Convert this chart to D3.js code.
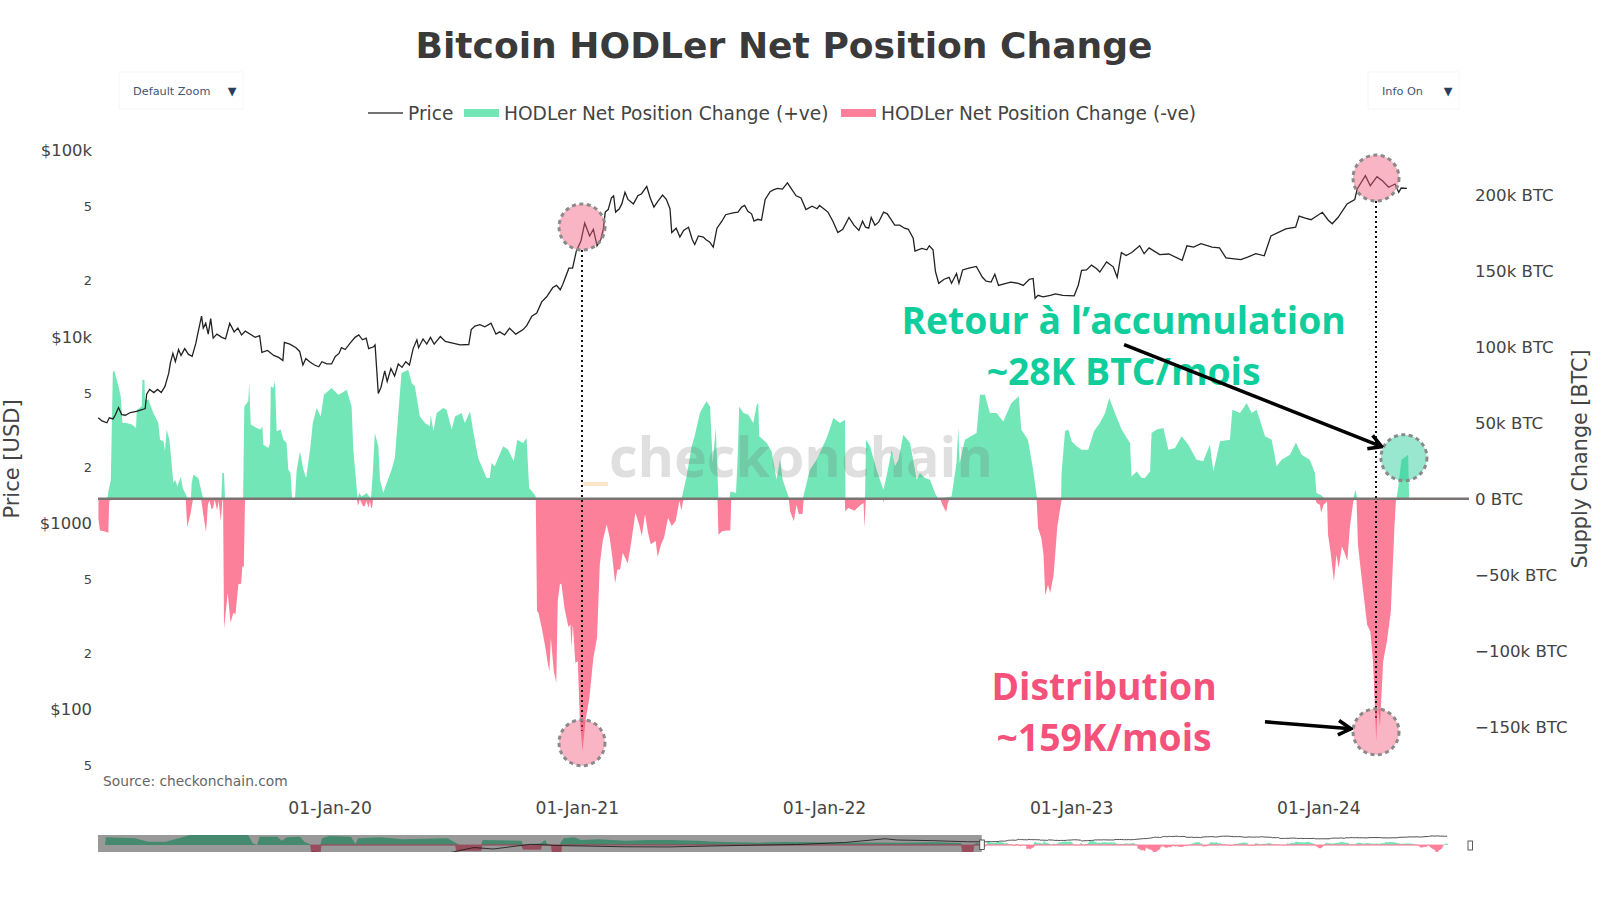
<!DOCTYPE html>
<html>
<head>
<meta charset="utf-8">
<script src="https://d3js.org/d3.v7.min.js"></script>
<style>
  html, body { margin: 0; padding: 0; background: #fff; }
  svg text { font-family: "DejaVu Sans", sans-serif; }
  .axis path, .axis line { display: none; }
  .note { font-family: "Open Sans", sans-serif !important; font-weight: 700; font-size: 37.3px; text-anchor: middle; }
</style>
</head>
<body>
<svg id="chart" width="1600" height="900"></svg>
<script>
// years are decimal, prices in USD, supply change in thousand BTC
const priceYears = [
  2019.064,2019.079,2019.099,2019.109,2019.124,2019.134,2019.146,2019.159,2019.174,2019.194,2019.219,2019.244,2019.254,2019.260,2019.272,2019.289,2019.304,2019.319,2019.334,2019.349,2019.356,2019.366,2019.376,2019.389,2019.399,2019.414,2019.429,2019.444,2019.459,2019.469,2019.482,2019.489,2019.499,2019.509,2019.519,2019.529,2019.544,2019.564,2019.579,2019.596,2019.614,2019.629,2019.644,2019.659,2019.684,2019.699,2019.717,2019.726,2019.749,2019.774,2019.794,2019.811,2019.817,2019.839,2019.864,2019.879,2019.892,2019.904,2019.919,2019.939,2019.956,2019.969,2019.989,
  2020.008,2020.023,2020.038,2020.048,2020.063,2020.083,2020.103,2020.118,2020.133,2020.148,2020.158,2020.178,2020.184,2020.197,2020.208,2020.223,2020.233,2020.248,2020.263,2020.278,2020.293,2020.308,2020.323,2020.338,2020.353,2020.360,2020.378,2020.393,2020.408,2020.423,2020.448,2020.468,2020.498,2020.528,2020.563,2020.573,2020.588,2020.608,2020.628,2020.653,2020.673,2020.688,2020.708,2020.728,2020.753,2020.783,2020.798,2020.818,2020.838,2020.858,2020.878,2020.903,2020.918,2020.933,2020.943,2020.968,2020.983,2020.998,
  2021.017,2021.032,2021.052,2021.067,2021.082,2021.097,2021.107,2021.115,2021.127,2021.140,2021.149,2021.157,2021.172,2021.182,2021.195,2021.207,2021.229,2021.247,2021.262,2021.283,2021.297,2021.312,2021.327,2021.347,2021.362,2021.377,2021.384,2021.402,2021.417,2021.432,2021.452,2021.467,2021.477,2021.492,2021.512,2021.522,2021.537,2021.552,2021.567,2021.587,2021.602,2021.632,2021.652,2021.667,2021.679,2021.692,2021.707,2021.717,2021.732,2021.747,2021.762,2021.782,2021.797,2021.812,2021.832,2021.852,2021.867,2021.887,2021.907,2021.927,2021.952,2021.972,2021.982,
  2022.016,2022.036,2022.056,2022.076,2022.101,2022.121,2022.141,2022.156,2022.168,2022.181,2022.191,2022.206,2022.221,2022.241,2022.256,2022.271,2022.286,2022.306,2022.326,2022.341,2022.361,2022.368,2022.396,2022.416,2022.426,2022.441,2022.451,2022.464,2022.486,2022.506,2022.516,2022.536,2022.546,2022.561,2022.586,2022.616,2022.641,2022.656,2022.676,2022.691,2022.706,2022.736,2022.756,2022.786,2022.806,2022.831,2022.846,2022.854,2022.866,2022.886,2022.916,2022.936,2022.966,
  2023.012,2023.029,2023.042,2023.062,2023.082,2023.102,2023.116,2023.143,2023.170,2023.186,2023.203,2023.222,2023.245,2023.277,2023.295,2023.315,2023.358,2023.395,2023.449,2023.468,2023.495,2023.525,2023.570,2023.600,2023.626,2023.686,2023.716,2023.747,2023.781,2023.808,2023.868,2023.908,2023.922,2023.947,2023.970,
  2024.016,2024.040,2024.056,2024.080,2024.116,2024.147,2024.157,2024.190,2024.210,2024.237,2024.260,2024.284,2024.310,2024.325,2024.335,2024.358
];
const priceValues = [
  3700,3560,3480,3700,3650,3850,4200,3850,3820,3950,4000,4100,4150,4950,5250,5050,5250,5050,5450,6400,7300,8200,7400,8600,8000,8700,8100,7900,9300,10800,13000,11200,11900,10400,12600,9900,10400,10000,9800,11900,10700,11200,10300,10800,10300,10000,10200,8300,8500,8000,7800,7500,9400,9200,8800,8400,7100,7700,7400,7100,6950,7400,7200,
  7200,7900,8200,8800,8600,9300,10000,10300,9700,9900,8700,8900,9100,5000,5400,6600,5800,6800,6200,7200,6900,7400,7100,8700,9700,8800,9800,9200,10000,9200,10100,9500,9300,9100,9150,11000,11500,11700,11400,11900,10400,10700,10300,11200,10400,11000,11600,13000,13500,15500,16500,18500,19000,18000,19200,23500,23500,29000,
  33000,41000,35000,38000,31000,33500,38000,47000,48500,56000,57500,47000,49000,52000,60000,55000,52000,57500,59000,64500,56000,50000,53500,58000,55000,49000,36500,38500,34500,37500,39000,33500,31500,35000,34500,33500,32500,30500,38500,42000,45500,46500,47000,50000,51000,47500,46000,42000,43000,42500,55000,60500,62000,63000,62500,67500,63000,57500,56000,48500,50500,49000,51000,
  47000,42000,36500,38000,44000,40000,37500,42000,39000,38500,44000,40000,41500,47000,46000,43000,40000,40000,38500,38000,34000,29000,30000,29500,31000,29500,22500,19500,20500,21000,19500,22000,19500,23000,23500,24000,21000,20000,19800,21800,19000,19500,19800,19500,19000,20500,20700,16200,16800,16500,16800,17100,16800,
  16700,19100,22900,23000,24400,23400,22400,25400,23900,21000,28500,27500,28500,31000,28100,30200,27800,28000,25900,31000,30500,31800,30500,30200,26700,26100,27000,28100,27400,35000,38200,39000,44700,43600,42800,
  46900,42500,40700,44100,52000,54900,62500,73700,65100,72800,69000,63900,66500,60000,63300,63000
];

const positiveYears = [
  2019.063,2019.101,2019.105,2019.115,2019.123,2019.128,2019.146,2019.155,2019.162,2019.179,2019.200,2019.217,2019.220,2019.240,2019.243,2019.251,2019.253,2019.267,2019.287,2019.307,2019.314,2019.328,2019.334,2019.341,2019.352,2019.361,2019.368,2019.375,2019.384,2019.398,2019.406,2019.422,2019.425,2019.439,2019.442,2019.449,2019.469,2019.483,2019.489,2019.562,2019.566,2019.573,2019.577,2019.650,2019.655,2019.671,2019.675,2019.681,2019.705,2019.721,2019.728,2019.732,2019.752,2019.759,2019.762,2019.772,2019.779,2019.786,2019.802,2019.813,2019.826,2019.833,2019.842,2019.848,2019.860,2019.867,2019.880,2019.894,2019.905,2019.921,2019.932,2019.948,2019.964,2019.977,
  2020.008,2020.035,2020.049,2020.069,2020.089,2020.096,2020.109,2020.113,2020.120,2020.130,2020.150,2020.167,2020.174,2020.183,2020.197,2020.204,2020.217,2020.231,2020.251,2020.264,2020.278,2020.291,2020.318,2020.332,2020.345,2020.365,2020.386,2020.406,2020.409,2020.420,2020.433,2020.460,2020.473,2020.494,2020.507,2020.534,2020.547,2020.568,2020.581,2020.601,2020.621,2020.635,2020.648,2020.655,2020.668,2020.702,2020.722,2020.745,2020.759,2020.783,2020.797,2020.807,2020.830,2020.837,
  2021.424,2021.444,2021.465,2021.478,2021.498,2021.512,2021.525,2021.539,2021.550,2021.562,2021.573,2021.617,2021.622,2021.644,2021.651,2021.657,2021.674,2021.694,2021.714,2021.728,2021.734,2021.738,2021.768,2021.788,2021.808,2021.822,2021.833,2021.849,2021.860,2021.914,2021.923,2021.943,2021.970,
  2022.011,2022.038,2022.065,2022.085,2022.087,2022.166,2022.170,2022.186,2022.213,2022.240,2022.253,2022.274,2022.287,2022.301,2022.321,2022.348,2022.375,2022.388,2022.408,2022.429,2022.449,2022.462,2022.516,2022.536,2022.543,2022.549,2022.570,2022.617,2022.631,2022.651,2022.671,2022.698,2022.725,2022.758,2022.788,2022.798,2022.825,2022.846,2022.862,2022.959,2022.961,2022.975,2022.988,
  2023.002,2023.022,2023.042,2023.069,2023.092,2023.116,2023.137,2023.154,2023.177,2023.204,2023.238,2023.244,2023.265,2023.285,2023.298,2023.319,2023.325,2023.346,2023.373,2023.393,2023.420,2023.447,2023.474,2023.507,2023.534,2023.561,2023.575,2023.602,2023.642,2023.652,2023.683,2023.710,2023.730,2023.750,2023.784,2023.811,2023.831,2023.851,2023.885,2023.909,2023.932,2023.965,2023.986,2023.992,
  2024.009,2024.026,2024.141,2024.150,2024.157,2024.316,2024.323,2024.336,2024.363,2024.367
];
const positiveValues = [
  0,0,4.8,12.5,82.8,85,74,67.4,49.8,49.8,48.8,46.6,58.6,60.8,78.4,78.4,65.2,65.2,56.4,49.8,38.9,37.8,31.2,45.5,38.9,23.5,10.3,12.5,8.1,14.7,7,1.5,0,0,10.3,15.8,13.6,3.7,0,0,16.9,16.9,0,0,60.8,64.1,76.2,48.8,46.6,45.5,47.7,35.6,33.4,36.7,74,72.9,77.3,44.4,45.5,38.9,36.7,19.1,16.9,0,0,19.1,31.2,19.1,13.6,32.3,49.8,59.7,54.2,68.5,
  72.9,68.5,69.6,71.8,60.8,32.3,8.1,0,3.7,1.5,3.7,0,14.7,43.3,34.5,12.5,3.7,10.3,19.1,26.8,56.4,82.8,85,76.2,74,54.2,49.8,47.7,55.3,44.4,56.4,59.7,58.6,45.5,54.2,56.4,49.8,57.5,44.4,26.8,19.1,13.6,13.6,23.5,21.3,34.5,32.3,24.6,38.9,36.7,40,7,2.6,0,
  0,14.7,34.5,42.2,56.4,60.8,64.1,60.8,23.5,46.6,0,0,4.8,3.7,27.9,60.8,56.4,55.3,49.8,61.9,63,41.1,36.7,31.2,12.5,25.7,12.5,4.8,0,0,5.9,19.1,25.7,
  40,53.1,49.8,52,0,0,38.9,34.5,19.1,5.9,14.7,32.3,21.3,25.7,42.2,36.7,12.5,16.9,13.6,12.5,3.7,0,1.5,23.5,46.6,23.5,38.9,43.3,68.5,68.5,56.4,56.4,50.9,63,67.4,45.5,38.9,19.1,0,0,16.9,44.4,45.5,
  37.8,34.5,32.3,32.3,44.4,49.8,56.4,66.3,56.4,45.5,36.7,14.7,18,13.6,13.6,18,43.3,45.5,46.6,32.3,33.4,41.1,35.6,25.7,24.6,35.6,18,37.8,38.9,58.6,56.4,63,56.4,58.6,41.1,38.9,21.3,25.7,29,37.1,29,25.7,16.9,3.7,
  2.6,0,0,5.9,0,0,8.1,25.7,29,0
];

const negativeYears = [
  2019.065,2019.071,2019.085,2019.105,2019.108,2019.111,2019.418,2019.424,2019.437,2019.446,2019.449,2019.480,2019.488,2019.500,2019.508,2019.514,2019.523,2019.529,2019.535,2019.545,2019.551,2019.560,2019.567,2019.569,2019.573,2019.588,2019.599,2019.611,2019.619,2019.631,2019.642,2019.647,2019.653,2019.658,
  2020.110,2020.115,2020.122,2020.135,2020.142,2020.149,2020.158,2020.163,2020.168,2020.172,2020.176,2020.834,2020.839,2020.845,2020.858,2020.873,2020.881,2020.889,2020.895,2020.907,2020.917,2020.923,2020.932,2020.938,2020.950,2020.966,2020.974,2020.978,2020.984,2020.994,
  2021.004,2021.012,2021.023,2021.036,2021.051,2021.067,2021.082,2021.093,2021.105,2021.121,2021.133,2021.144,2021.155,2021.164,2021.175,2021.186,2021.206,2021.221,2021.237,2021.252,2021.263,2021.276,2021.288,2021.299,2021.319,2021.327,2021.341,2021.353,2021.369,2021.384,2021.400,2021.415,2021.423,2021.430,2021.438,2021.569,2021.573,2021.588,2021.606,2021.621,2021.625,2021.857,2021.863,2021.878,2021.889,2021.898,2021.913,2021.918,
  2022.084,2022.086,2022.099,2022.123,2022.149,2022.160,2022.164,2022.169,2022.238,2022.240,2022.243,2022.470,2022.479,2022.494,2022.501,2022.509,2022.860,2022.866,2022.879,2022.888,2022.895,2022.906,2022.915,2022.929,2022.944,2022.958,2022.962,2023.987,2023.993,
  2024.006,2024.011,2024.021,2024.035,2024.039,2024.048,2024.063,2024.073,2024.082,2024.095,2024.104,2024.117,2024.127,2024.141,2024.147,2024.154,2024.160,2024.178,2024.197,2024.210,2024.221,2024.234,2024.240,2024.249,2024.262,2024.277,2024.293,2024.308,2024.314
];
const negativeValues = [
  -13.6,-20.9,-21.3,-22.4,-3.7,0,0,-18.7,-10.3,-1.5,0,0,-9.2,-22,-3.7,-1.1,-7,-5.9,-0.5,-7.7,-1.5,-14.7,-0.4,0,-85.6,-61.9,-81.7,-75.1,-76.2,-56.4,-56,-44.4,-45,0,
  0,-4.8,-0.4,-4.8,-5,-1.5,-5.9,-1.5,-5.9,-5.9,0,0,-74,-75.1,-85,-98.2,-106.9,-114,-91.6,-113.5,-121.2,-67.4,-56,-56.4,-71.8,-84.5,-82.8,-98.2,-82.8,-108,
  -107,-144.3,-166.2,-145.4,-131.1,-104.7,-91.6,-43.3,-27.9,-16.9,-25.7,-38.9,-55.8,-46.6,-46.6,-35.6,-42.6,-27.9,-9.2,-16.9,-24.6,-10.3,-22.4,-30,-27.9,-38.4,-30,-25.7,-12.5,-18,-14.7,-1.5,-7.7,-1.5,0,0,-23.7,-21.5,-21,-21,0,0,-8.3,-14.9,-3.9,-10.1,-10.1,0,
  0,-8.3,-6.1,-7.9,-3.9,-2.9,-19.3,0,0,-2.9,0,0,-3.9,-8.8,-2.9,0,0,-19.3,-25.9,-36.9,-63.7,-56.7,-62.1,-50,-18.2,-3.9,0,0,-2.9,
  -3.9,-9.4,-3.9,-1.8,-23.7,-33.6,-54.5,-36.9,-45.7,-31.4,-34.7,-40.8,-19.3,-1.8,0,0,-30.3,-56.7,-83,-87.4,-107.2,-159.9,-135.7,-150,-107.2,-94,-74.2,-17.1,0
];

// earlier history, only visible in the range slider
const sliderPriceYears = [2011.0,2011.45,2011.9,2012.5,2013.0,2013.28,2013.5,2013.92,2014.3,2015.0,2015.5,2016.0,2016.5,2016.95,2017.5,2017.96,2018.1,2018.5,2018.9,2019.06];
const sliderPriceValues = [0.3,18,3,6,13,190,90,1000,500,280,260,430,650,900,2500,17000,9000,6500,3600,3700];
const sliderPositiveYears = [2009.08,2009.09,2009.42,2009.57,2009.77,2009.98,2010.05,2010.71,2010.76,2010.81,2010.84,2011.04,2011.09,2011.15,2011.30,2011.35,2011.43,2011.53,2011.55,2011.63,2011.88,2011.93,2011.96,2012.21,2012.47,2012.98,2013.08,2013.12,2013.36,2013.38,2013.82,2013.84,2014.04,2014.09,2014.12,2014.25,2014.30,2014.42,2014.50,2014.70,2015.01,2015.26,2015.52,2015.82,2016.03,2016.54,2016.84,2017.5,2018.13,2018.5,2018.82,2018.84,2018.96,2019.0,2019.06];
const sliderPositiveValues = [0,163,142,71,71,177,213,213,35,0,177,177,92,163,177,71,0,0,142,191,177,21,142,163,120,142,35,0,0,106,92,0,35,106,0,0,142,163,106,120,92,106,106,92,71,50,64,55,50,57,40,0,0,45,0];
const sliderNegativeYears = [2011.42,2011.43,2011.53,2011.54,2013.07,2013.08,2013.36,2013.37,2013.82,2013.84,2014.04,2014.05,2014.16,2014.17,2014.27,2014.28,2018.83,2018.84,2018.96,2018.97,2019.06];
const sliderNegativeValues = [0,-150,-150,0,0,-120,-120,0,0,-90,-90,0,0,-150,-150,0,0,-150,-150,0,0];

const priceTickValues = [100000,50000,20000,10000,5000,2000,1000,500,200,100,50];
const priceTickLabels = ["$100k","5","2","$10k","5","2","$1000","5","2","$100","5"];
const changeTickValues = [200,150,100,50,0,-50,-100,-150];
const changeTickLabels = ["200k BTC","150k BTC","100k BTC","50k BTC","0 BTC","\u221250k BTC","\u2212100k BTC","\u2212150k BTC"];
const yearTickValues = [2020,2021,2022,2023,2024];
const yearTickLabels = ["01-Jan-20","01-Jan-21","01-Jan-22","01-Jan-23","01-Jan-24"];

const green = "#73e6b7", pink = "#fd809b";

let svg = d3.select("#chart");
let x = d3.scaleLinear().domain([2020, 2024]).range([329.6, 1318.4]);
let yPrice = d3.scaleLog().domain([100000, 100]).range([151, 710]);
let yChange = d3.scaleLinear().domain([200, -150]).range([195, 726.5]);

function rows(years, values) {
    return years.map((t, i) => ({t: t, v: values[i]}));
}

let areaChange = d3.area().x(d => x(d.t)).y0(yChange(0)).y1(d => yChange(d.v));
let linePrice = d3.line().x(d => x(d.t)).y(d => yPrice(d.v));

// main plot
svg.append("path").datum(rows(positiveYears, positiveValues)).attr("d", areaChange).attr("fill", green);
svg.append("path").datum(rows(negativeYears, negativeValues)).attr("d", areaChange).attr("fill", pink);
svg.append("line").attr("x1", 98).attr("x2", 1469)
    .attr("y1", yChange(0)).attr("y2", yChange(0))
    .attr("stroke", "#7b7272").attr("stroke-width", 2.6);

// watermark
svg.append("text").attr("x", 801).attr("y", 477).attr("text-anchor", "middle")
    .style("font-family", "'Open Sans', sans-serif").style("font-weight", 700).style("font-size", "55.6px")
    .attr("fill", "rgba(110,110,110,0.22)").text("checkonchain");
svg.append("rect").attr("x", 583).attr("y", 482).attr("width", 25).attr("height", 4).attr("fill", "#fce6ca");

svg.append("path").datum(rows(priceYears, priceValues)).attr("d", linePrice)
    .attr("fill", "none").attr("stroke", "#222").attr("stroke-width", 1.3);

// axes
let axisPrice = d3.axisLeft(yPrice).tickValues(priceTickValues).tickSize(0).tickPadding(0)
    .tickFormat((d, i) => priceTickLabels[i]);
let gPrice = svg.append("g").attr("class", "axis").attr("transform", "translate(92,-0.5)").call(axisPrice);
gPrice.selectAll("text").style("font-size", (d, i) => priceTickLabels[i].length > 1 ? "16.4px" : "13px").attr("fill", "#444");

let axisChange = d3.axisRight(yChange).tickValues(changeTickValues).tickSize(0).tickPadding(0)
    .tickFormat((d, i) => changeTickLabels[i]);
let gChange = svg.append("g").attr("class", "axis").attr("transform", "translate(1475,0.5)").call(axisChange);
gChange.selectAll("text").style("font-size", "16.6px").attr("fill", "#444");

let axisYear = d3.axisBottom(x).tickValues(yearTickValues).tickSize(0).tickPadding(0)
    .tickFormat((d, i) => yearTickLabels[i]);
let gYear = svg.append("g").attr("class", "axis").attr("transform", "translate(0,802)").call(axisYear);
gYear.selectAll("text").style("font-size", "17.2px").attr("fill", "#444");

svg.append("text").attr("transform", "translate(19,459) rotate(-90)").attr("text-anchor", "middle")
    .style("font-size", "21px").attr("fill", "#444").text("Price [USD]");
svg.append("text").attr("transform", "translate(1587,459) rotate(-90)").attr("text-anchor", "middle")
    .style("font-size", "20.7px").attr("fill", "#444").text("Supply Change [BTC]");

svg.append("text").attr("x", 784).attr("y", 58).attr("text-anchor", "middle")
    .style("font-size", "36.1px").style("font-weight", 700).attr("fill", "#3a3a3a")
    .text("Bitcoin HODLer Net Position Change");
svg.append("text").attr("x", 103).attr("y", 786).style("font-size", "13.8px").attr("fill", "#666")
    .text("Source: checkonchain.com");

// legend
let legend = svg.append("g").style("font-size", "18.6px").attr("fill", "#444");
legend.append("line").attr("x1", 368).attr("x2", 403).attr("y1", 113).attr("y2", 113).attr("stroke", "#444").attr("stroke-width", 1.5);
legend.append("text").attr("x", 408).attr("y", 120).text("Price");
legend.append("rect").attr("x", 464).attr("y", 109).attr("width", 35).attr("height", 8).attr("fill", green);
legend.append("text").attr("x", 504).attr("y", 120).text("HODLer Net Position Change (+ve)");
legend.append("rect").attr("x", 841).attr("y", 109).attr("width", 35).attr("height", 8).attr("fill", pink);
legend.append("text").attr("x", 881).attr("y", 120).text("HODLer Net Position Change (-ve)");

// dropdown buttons
function button(left, width, label) {
    let g = svg.append("g");
    g.append("rect").attr("x", left).attr("y", 72).attr("width", width).attr("height", 37)
        .attr("fill", "#fff").attr("stroke", "#f6f6f6");
    g.append("text").attr("x", left + 14).attr("y", 95).style("font-size", "11.3px").attr("fill", "#3f5578").text(label);
    g.append("text").attr("x", left + width - 11).attr("y", 95).attr("text-anchor", "middle")
        .style("font-size", "11.3px").attr("fill", "#2a3f5f").text("\u25BC");
}
button(119, 124, "Default Zoom");
button(1368, 91, "Info On");

// annotation circles and guides, placed on the data scales
const redCircle = "rgba(241,90,122,0.45)", greenCircle = "rgba(40,205,155,0.47)";
function dotted(t, y1, y2) {
    svg.append("line").attr("x1", x(t)).attr("x2", x(t)).attr("y1", y1).attr("y2", y2)
        .attr("stroke", "#111").attr("stroke-width", 2).attr("stroke-dasharray", "2,3");
}
dotted(2021.021, yPrice(39100) + 23, yChange(-153));
dotted(2024.233, yPrice(71600) + 23, yChange(-146));

function circle(t, y, fill) {
    svg.append("circle").attr("cx", x(t)).attr("cy", y).attr("r", 23).attr("fill", fill)
        .attr("stroke", "#8a8a8a").attr("stroke-width", 3).attr("stroke-dasharray", "4,3.5");
}
circle(2021.021, yPrice(39100), redCircle);
circle(2021.021, yChange(-160.7), redCircle);
circle(2024.233, yPrice(71600), redCircle);
circle(2024.233, yChange(-153.5), redCircle);
circle(2024.346, yChange(27), greenCircle);

// notes
function note(t, k, color, label) {
    svg.append("text").attr("class", "note").attr("x", x(t)).attr("y", yChange(k)).attr("fill", color).text(label);
}
note(2023.212, 108.4, "#10cd9c", "Retour \u00e0 l\u2019accumulation");
note(2023.212, 74.8, "#10cd9c", "~28K BTC/mois");
note(2023.133, -132.4, "#f4527a", "Distribution");
note(2023.133, -166.1, "#f4527a", "~159K/mois");

svg.append("defs").append("marker").attr("id", "head").attr("viewBox", "0 0 10 10").attr("refX", 9).attr("refY", 5)
    .attr("markerUnits", "userSpaceOnUse").attr("markerWidth", 18).attr("markerHeight", 18).attr("orient", "auto")
    .append("path").attr("d", "M2,1 L9,5 L2,9").attr("fill", "none").attr("stroke", "#000").attr("stroke-width", 2);
function arrow(t1, k1, t2, k2) {
    svg.append("line").attr("x1", x(t1)).attr("y1", yChange(k1)).attr("x2", x(t2)).attr("y2", yChange(k2))
        .attr("stroke", "#000").attr("stroke-width", 3.6).attr("marker-end", "url(#head)");
}
arrow(2023.214, 101.5, 2024.256, 34.3);
arrow(2023.784, -146.9, 2024.132, -151.5);

// range slider
let xMini = d3.scaleLinear().domain([2009, 2024.367]).range([98, 1448]);
let yMiniChange = d3.scaleLinear().domain([213, -150]).range([835, 852]);
let yMiniPrice = d3.scaleLog().domain([100000, 1]).range([835.3, 857.8]);
svg.select("defs").append("clipPath").attr("id", "miniClip").append("rect")
    .attr("x", 98).attr("y", 835).attr("width", 1350).attr("height", 17);
let mini = svg.append("g").attr("clip-path", "url(#miniClip)");
let areaMini = d3.area().x(d => xMini(d.t)).y0(yMiniChange(0)).y1(d => yMiniChange(d.v));
let lineMini = d3.line().x(d => xMini(d.t)).y(d => yMiniPrice(d.v));

mini.append("path").datum(rows(sliderPositiveYears.concat(positiveYears), sliderPositiveValues.concat(positiveValues)))
    .attr("d", areaMini).attr("fill", green);
mini.append("path").datum(rows(sliderNegativeYears.concat(negativeYears), sliderNegativeValues.concat(negativeValues)))
    .attr("d", areaMini).attr("fill", pink).attr("stroke", pink).attr("stroke-width", 0.8);
mini.append("path").datum(rows(sliderPriceYears.concat(priceYears), sliderPriceValues.concat(priceValues)))
    .attr("d", lineMini).attr("fill", "none").attr("stroke", "#222").attr("stroke-width", 0.8);

svg.append("rect").attr("x", 98).attr("y", 835).attr("width", xMini(2019.06) - 98).attr("height", 17)
    .attr("fill", "rgba(0,0,0,0.4)");
svg.append("rect").attr("x", xMini(2019.06) - 2).attr("y", 840).attr("width", 4.5).attr("height", 9.5)
    .attr("fill", "#fff").attr("stroke", "#333").attr("stroke-width", 0.8);
svg.append("rect").attr("x", 1468).attr("y", 841).attr("width", 4.5).attr("height", 9)
    .attr("fill", "#fff").attr("stroke", "#333").attr("stroke-width", 0.8);
</script>
</body>
</html>
